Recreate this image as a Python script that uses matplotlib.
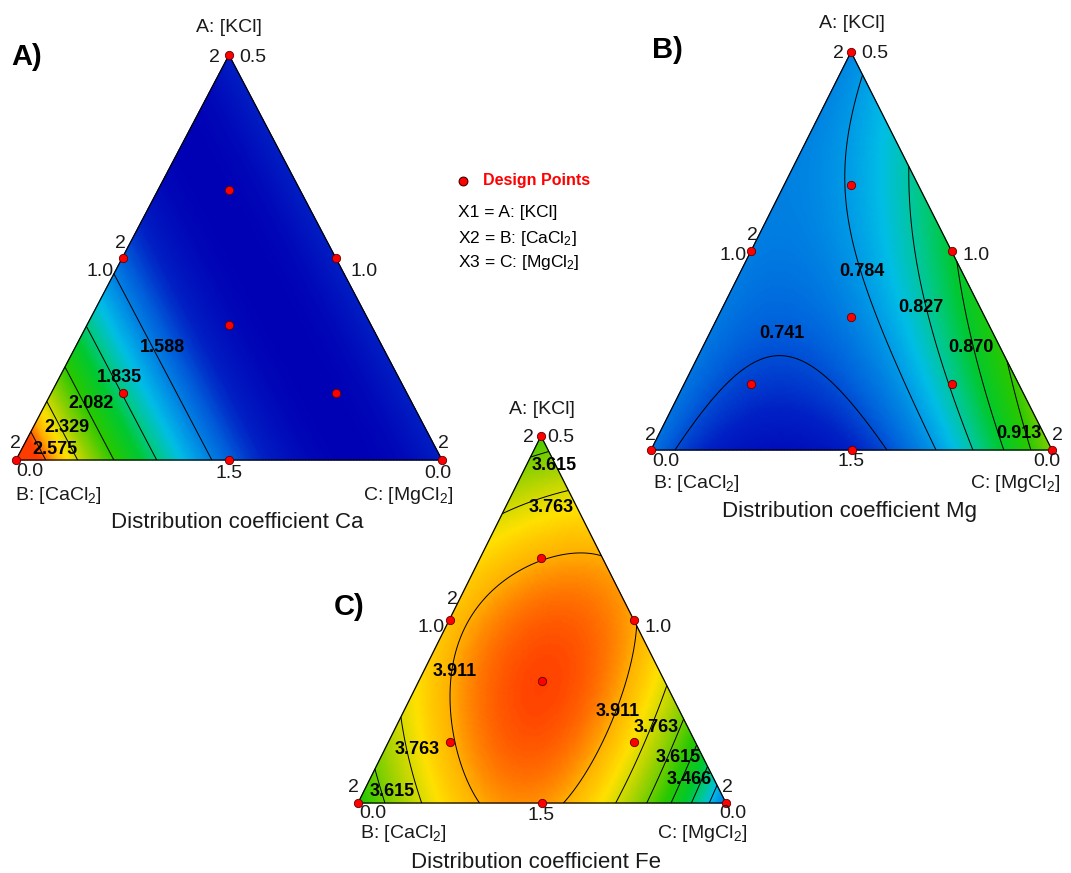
import numpy as np
import matplotlib.pyplot as plt
import matplotlib.tri as mtri
from matplotlib.colors import LinearSegmentedColormap, Normalize

plt.rcParams['font.family'] = ['Liberation Sans', 'DejaVu Sans']
plt.rcParams['mathtext.fontset'] = 'custom'
plt.rcParams['mathtext.rm'] = 'Liberation Sans'
plt.rcParams['mathtext.default'] = 'regular'

# design points: fractions of A [KCl], B [CaCl2], C [MgCl2]
design_a = np.array([1, 0, 0, 1/2, 1/2, 0, 1/3, 2/3, 1/6, 1/6])
design_b = np.array([0, 1, 0, 1/2, 0, 1/2, 1/3, 1/6, 2/3, 1/6])
design_c = 1 - design_a - design_b

# Scheffe model terms: A, B, C, AB, AC, BC, AB(A-B), AC(A-C), BC(B-C), ABC
coef_ca = [1.422, 2.828, 1.422, -2.39, 0.0, -2.39, 0, 0, 0, 0]
coef_mg = [0.773, 0.760, 0.950, 0.0, 0.015, -0.54, 0, 0, 0, 0]
coef_fe = [3.545, 3.483, 3.015, 1.434, 2.553, 2.754, -0.085, -0.293, -0.353, -2.045]

levels_ca = [1.588, 1.835, 2.082, 2.329, 2.575]
levels_mg = [0.741, 0.784, 0.827, 0.870, 0.913]
levels_fe = [3.170, 3.318, 3.466, 3.615, 3.763, 3.911]


def terms(a, b, c):
    return np.stack([a, b, c, a * b, a * c, b * c, a * b * (a - b), a * c * (a - c),
                     b * c * (b - c), a * b * c], axis=-1)


colors = ['#0000B4', '#0020C4', '#0064DC', '#0096E6', '#00BEE6', '#00C88C', '#00C832',
          '#28C800', '#A0D200', '#FFE100', '#FFB400', '#FF7800', '#FF3C00']
stops = [0, .08, .16, .24, .30, .38, .46, .58, .72, .83, .90, .95, 1.0]
cmap = LinearSegmentedColormap.from_list('de', list(zip(stops, colors)))

panels = [
    dict(apex=(229, 55), left=(16, 460), right=(442, 460), coef=coef_ca, levels=levels_ca,
         vmin=1.32, vmax=2.62, letter='A)', letter_xy=(27, 57),
         title='Distribution coefficient Ca', title_xy=(237, 522),
         ticks=[('A: [KCl]', 229, 27, 'center'), ('2', 214, 57, 'center'), ('0.5', 253, 57, 'center'),
                ('2', 120, 243, 'center'), ('1.0', 100, 272, 'center'), ('1.0', 364, 272, 'center'),
                ('2', 15, 443, 'center'), ('0.0', 30, 472, 'center'), ('1.5', 229, 473, 'center'),
                ('2', 443, 443, 'center'), ('0.0', 438, 473, 'center'),
                ('B: [CaCl$_2$]', 15, 496, 'left'), ('C: [MgCl$_2$]', 453, 496, 'right')],
         clabels=[('1.588', 162, 347), ('1.835', 119, 378), ('2.082', 91, 403),
                  ('2.329', 67, 428), ('2.575', 55, 450)]),
    dict(apex=(851, 52), left=(651, 450), right=(1052, 450), coef=coef_mg, levels=levels_mg,
         vmin=0.69, vmax=1.07, letter='B)', letter_xy=(667, 50),
         title='Distribution coefficient Mg', title_xy=(849, 512),
         ticks=[('A: [KCl]', 852, 24, 'center'), ('2', 838, 53, 'center'), ('0.5', 875, 53, 'center'),
                ('2', 752, 235, 'center'), ('1.0', 733, 256, 'center'), ('1.0', 976, 256, 'center'),
                ('2', 650, 435, 'center'), ('0.0', 666, 461, 'center'), ('1.5', 851, 462, 'center'),
                ('2', 1057, 435, 'center'), ('0.0', 1047, 461, 'center'),
                ('B: [CaCl$_2$]', 653, 483, 'left'), ('C: [MgCl$_2$]', 1060, 483, 'right')],
         clabels=[('0.784', 862, 272), ('0.827', 921, 307), ('0.870', 971, 348),
                  ('0.741', 782, 333), ('0.913', 1019, 433)]),
    dict(apex=(541, 436), left=(358, 803), right=(726, 803), coef=coef_fe, levels=levels_fe,
         vmin=2.80, vmax=4.03, letter='C)', letter_xy=(349, 607),
         title='Distribution coefficient Fe', title_xy=(536, 862),
         ticks=[('A: [KCl]', 542, 410, 'center'), ('2', 528, 437, 'center'), ('0.5', 561, 437, 'center'),
                ('2', 452, 600, 'center'), ('1.0', 431, 627, 'center'), ('1.0', 658, 627, 'center'),
                ('2', 353, 787, 'center'), ('0.0', 373, 813, 'center'), ('1.5', 541, 815, 'center'),
                ('2', 727, 787, 'center'), ('0.0', 733, 813, 'center'),
                ('B: [CaCl$_2$]', 360, 834, 'left'), ('C: [MgCl$_2$]', 747, 834, 'right')],
         clabels=[('3.615', 554, 466), ('3.763', 551, 508), ('3.911', 455, 672),
                  ('3.911', 618, 712), ('3.763', 656, 728), ('3.763', 417, 750),
                  ('3.615', 678, 757), ('3.466', 689, 780), ('3.615', 392, 791)]),
]

fig = plt.figure(figsize=(10.71, 8.73), dpi=100)
ax = fig.add_axes([0, 0, 1, 1])
ax.set_xlim(0, 1071)
ax.set_ylim(873, 0)
ax.axis('off')

n = 150
ii, jj = np.meshgrid(np.arange(n + 1), np.arange(n + 1))
keep = ii + jj <= n
ga = ii[keep] / n
gb = jj[keep] / n
gc = 1 - ga - gb


def to_px(p, a, b, c):
    x = a * p['apex'][0] + b * p['left'][0] + c * p['right'][0]
    y = a * p['apex'][1] + b * p['left'][1] + c * p['right'][1]
    return x, y


for p in panels:
    gx, gy = to_px(p, ga, gb, gc)
    z = terms(ga, gb, gc) @ np.array(p['coef'])
    tri = mtri.Triangulation(gx, gy)
    ax.tripcolor(tri, z, shading='gouraud', cmap=cmap,
                 norm=Normalize(p['vmin'], p['vmax']), zorder=1)
    ax.tricontour(tri, z, levels=p['levels'], colors='black', linewidths=0.7, zorder=2)
    vx = [p['apex'][0], p['left'][0], p['right'][0], p['apex'][0]]
    vy = [p['apex'][1], p['left'][1], p['right'][1], p['apex'][1]]
    ax.plot(vx, vy, color='black', lw=0.9, zorder=3)
    dx, dy = to_px(p, design_a, design_b, design_c)
    ax.scatter(dx, dy, s=36, color='#FF0000', edgecolors='#600000', linewidths=0.6, zorder=5, clip_on=False)
    for t, x, y, ha in p['ticks']:
        ax.text(x, y, t, fontsize=14, ha=ha, va='center', color='#1a1a1a', zorder=6)
    for t, x, y in p['clabels']:
        ax.text(x, y, t, fontsize=13, fontweight='bold', ha='center', va='center', zorder=6)
    ax.text(*p['letter_xy'], p['letter'], fontsize=21, fontweight='bold', ha='center', va='center')
    ax.text(*p['title_xy'], p['title'], fontsize=16, ha='center', va='center', color='#1a1a1a')

# legend
ax.scatter([463], [181], s=40, color='#FF0000', edgecolors='#400000', linewidths=0.8)
ax.text(483, 181, 'Design Points', color='#FF0000', fontsize=11.5, fontweight='bold', va='center')
ax.text(458, 212, 'X1 = A: [KCl]', fontsize=12.5, va='center')
ax.text(458, 238, 'X2 = B: [CaCl$_2$]', fontsize=12.5, va='center')
ax.text(458, 263, 'X3 = C: [MgCl$_2$]', fontsize=12.5, va='center')

fig.savefig('out.png', dpi=100)
